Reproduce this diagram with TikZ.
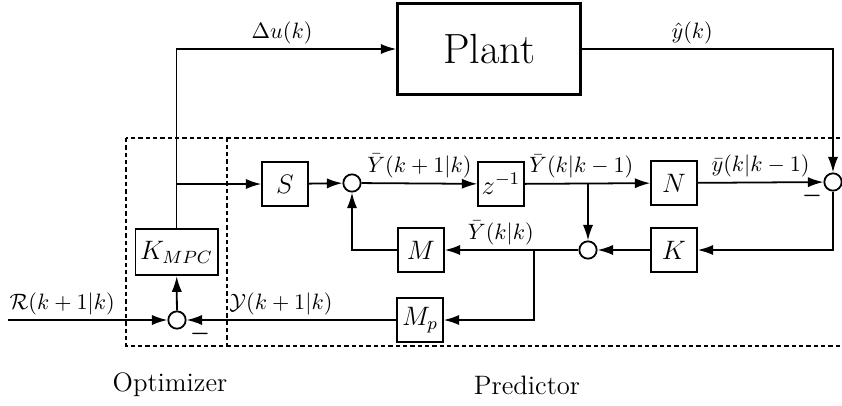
\documentclass[tikz,border=0pt]{standalone}
\usepackage{amsmath,amssymb}
\usepackage{tikz}
\usetikzlibrary{arrows.meta,positioning,calc}

\begin{document}
\begin{tikzpicture}[x=0.45pt,y=-0.45pt,line width=0.8pt,>={Latex[length=7pt,width=4.6pt]},
  box/.style={draw,line width=0.8pt,minimum width=20.5pt,minimum height=20pt,inner sep=1pt,font=\large},
  sum/.style={draw,circle,line width=0.8pt,minimum size=7.8pt,inner sep=0pt},
  lab/.style={inner sep=2pt,font=\normalsize},
  frame/.style={line width=0.6pt,dash pattern=on 2pt off 1.3pt}]
\useasboundingbox (0,0) rectangle (842,405);
% blocks
\node (plant) [box,line width=1.4pt,minimum width=82pt,minimum height=41pt,font=\fontsize{19}{22}\selectfont] at (489,49) {Plant};
\node (S) [box] at (285,184) {$S$};
\node (z) [box] at (501,184) {$z^{-1}$};
\node (N) [box] at (674,183) {$N$};
\node (K) [box] at (674,250) {$K$};
\node (M) [box] at (421,250) {$M$};
\node (Mp) [box] at (420,320) {$M_p$};
\node (kmpc) [box,minimum width=37pt,minimum height=21pt] at (176.5,252) {$K_{MPC}$};
% summing junctions
\node (sum1) [sum] at (352,183) {};
\node (sum2) [sum] at (833,182) {};
\node (sum3) [sum] at (588,250) {};
\node (sum4) [sum] at (177,320) {};
\coordinate (in) at (8,320);
\coordinate (br0) at (kmpc.north |- S);
\coordinate (br1) at (sum3 |- z);
\coordinate (br2) at (534,250);
% dotted frames
\draw[frame] (126,138) rectangle (227,346);
\draw[frame] (227,138) -- (842,138);
\draw[frame] (227,346) -- (842,346);
% signals
\draw[->] (kmpc) |- node[lab,above,pos=0.74]{$\Delta u(k)$} (plant);
\draw[->] (br0) -- (S);
\draw[->] (S) -- (sum1);
\draw[->] (sum1) -- node[lab,above]{$\bar{Y}(k+1|k)$} (z);
\draw[->] (z) -- node[lab,above,pos=0.45]{$\bar{Y}(k|k-1)$} (N);
\draw[->] (br1) -- (sum3);
\draw[->] (N) -- node[lab,above]{$\bar{y}(k|k-1)$} (sum2);
\draw[->] (plant) -| node[lab,above,pos=0.22]{$\hat{y}(k)$} (sum2);
\draw[->] (sum2) |- (K);
\draw[->] (K) -- (sum3);
\draw[->] (sum3) -- node[lab,above,pos=0.58]{$\bar{Y}(k|k)$} (M);
\draw[->] (br2) |- (Mp);
\draw[->] (M) -| (sum1);
\draw[->] (Mp) -- node[lab,above,pos=0.55]{$\mathcal{Y}(k+1|k)$} (sum4);
\draw[->] (in) -- node[lab,above,pos=0.34]{$\mathcal{R}(k+1|k)$} (sum4);
\draw[->] (sum4) -- (kmpc);
% minus signs
\node at (812,196) {$\boldsymbol{-}$};
\node at (200,334) {$\boldsymbol{-}$};
% captions
\node (opt) [font=\large] at (170,385) {Optimizer};
\node (pred) [font=\large] at (527,385) {Predictor};
\end{tikzpicture}
\end{document}
